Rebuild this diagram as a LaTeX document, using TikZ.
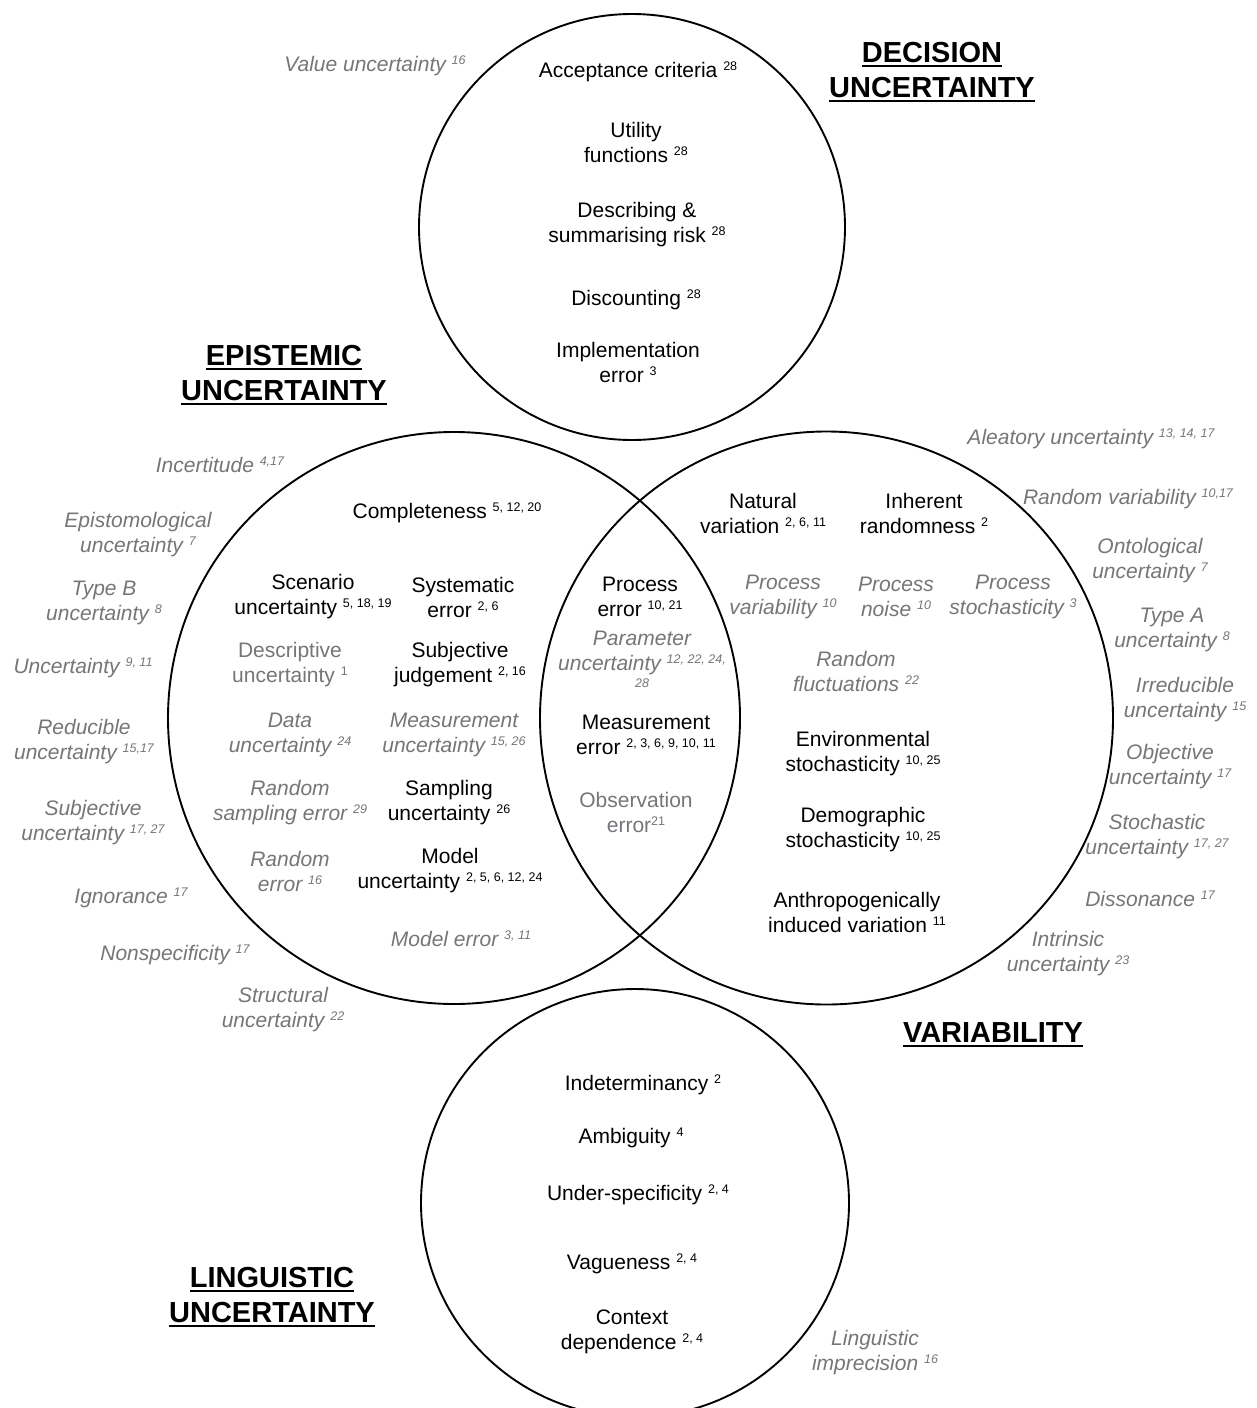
\documentclass[tikz,border=0pt]{standalone}
\usepackage{fontspec}
\setmainfont{Liberation Sans}
\definecolor{tg}{RGB}{118,118,122}
\newcommand\supr[1]{\raisebox{7pt}{\fontsize{12.5}{12.5}\selectfont #1}}
\newcommand\hul[1]{\leavevmode\vtop{\hbox{#1}\kern2.5pt\hrule height 2.2pt}}
\begin{document}
\begin{tikzpicture}[x=1pt,y=-1pt,
  every node/.style={inner sep=0pt, align=center, yshift=-2pt, font=\fontsize{21}{25}\selectfont},
  gi/.style={text=tg, font=\fontsize{21}{25}\selectfont\itshape},
  gu/.style={text=tg},
  hd/.style={font=\fontsize{29}{35}\selectfont\bfseries},
  ring/.style={draw, circle, line width=1.9pt, minimum size=#1, yshift=0pt}]
\useasboundingbox (0,0) rectangle (1257,1408);
\fill[white] (0,0) rectangle (1257,1408);
% circles
\node[ring=426pt] (dec) at (632,225) {};
\node[ring=572pt] (epi) at (454,716) {};
\node[ring=573pt] (var) at (826.5,716) {};
\node[ring=428pt] (lin) at (635,1201) {};
% headings
\node[hd] (hdec) at (932,70) {\hul{DECISION}\\\hul{UNCERTAINTY}};
\node[hd] (hepi) at (284,373) {\hul{EPISTEMIC}\\\hul{UNCERTAINTY}};
\node[hd] (hvar) at (993,1033) {\hul{VARIABILITY}};
\node[hd] (hlin) at (272,1295) {\hul{LINGUISTIC}\\\hul{UNCERTAINTY}};
% decision
\node (d1) at (638,70) {Acceptance criteria \supr{28}};
\node (d2) at (636,140) {Utility\\functions \supr{28}};
\node (d3) at (637,223) {Describing \&\\summarising risk \supr{28}};
\node (d4) at (636,298) {Discounting \supr{28}};
\node (d5) at (628,360) {Implementation\\error \supr{3}};
\node[gi] (d6) at (375,64) {Value uncertainty \supr{16}};
% epistemic outside
\node[gi] (e1) at (220,463) {Incertitude \supr{4,17}};
\node[gi] (e2) at (138,533) {Epistomological\\uncertainty \supr{7}};
\node[gi] (e3) at (104,601) {Type B\\uncertainty \supr{8}};
\node[gi] (e4) at (83,666) {Uncertainty \supr{9, 11}};
\node[gi] (e5) at (84,740) {Reducible\\uncertainty \supr{15,17}};
\node[gi] (e6) at (93,821) {Subjective\\uncertainty \supr{17, 27}};
\node[gi] (e7) at (131,896) {Ignorance \supr{17}};
\node[gi] (e8) at (175,953) {Nonspecificity \supr{17}};
\node[gi] (e9) at (283,1008) {Structural\\uncertainty \supr{22}};
% epistemic inside
\node (i1) at (447,511) {Completeness \supr{5, 12, 20}};
\node (i2) at (313,595) {Scenario\\uncertainty \supr{5, 18, 19}};
\node (i3) at (463,595) {Systematic\\error \supr{2, 6}};
\node[gu] (i4) at (290,663) {Descriptive\\uncertainty \supr{1}};
\node (i5) at (460,663) {Subjective\\judgement \supr{2, 16}};
\node[gi] (i6) at (290,733) {Data\\uncertainty \supr{24}};
\node[gi] (i7) at (454,733) {Measurement\\uncertainty \supr{15, 26}};
\node[gi] (i8) at (290,801) {Random\\sampling error \supr{29}};
\node (i9) at (449,801) {Sampling\\uncertainty \supr{26}};
\node[gi] (i10) at (290,869) {Random\\error \supr{16}};
\node (i11) at (450,869) {Model\\uncertainty \supr{2, 5, 6, 12, 24}};
\node[gi] (i12) at (461,937) {Model error \supr{3, 11}};
% lens
\node (l1) at (640,595) {Process\\error \supr{10, 21}};
\node[gi] (l2) at (642,657) {Parameter\\uncertainty \supr{12, 22, 24,}\\[-8pt]{\fontsize{12.5}{12.5}\selectfont 28}};
\node (l3) at (646,733) {Measurement\\error \supr{2, 3, 6, 9, 10, 11}};
\node[gu] (l4) at (636,810) {Observation\\error\supr{21}};
% variability inside
\node (v1) at (763,511) {Natural\\variation \supr{2, 6, 11}};
\node (v2) at (924,511) {Inherent\\randomness \supr{2}};
\node[gi] (v3) at (783,595) {Process\\variability \supr{10}};
\node[gi] (v4) at (896,595) {Process\\noise \supr{10}};
\node[gi] (v5) at (1013,595) {Process\\stochasticity \supr{3}};
\node[gi] (v6) at (856,669) {Random\\fluctuations \supr{22}};
\node (v7) at (863,752) {Environmental\\stochasticity \supr{10, 25}};
\node (v8) at (863,828) {Demographic\\stochasticity \supr{10, 25}};
\node (v9) at (857,910) {Anthropogenically\\induced variation \supr{11}};
% variability outside
\node[gi] (o1) at (1091,437) {Aleatory uncertainty \supr{13, 14, 17}};
\node[gi] (o2) at (1128,497) {Random variability \supr{10,17}};
\node[gi] (o3) at (1150,559) {Ontological\\uncertainty \supr{7}};
\node[gi] (o4) at (1172,628) {Type A\\uncertainty \supr{8}};
\node[gi] (o5) at (1185,698) {Irreducible\\uncertainty \supr{15}};
\node[gi] (o6) at (1170,765) {Objective\\uncertainty \supr{17}};
\node[gi] (o7) at (1157,835) {Stochastic\\uncertainty \supr{17, 27}};
\node[gi] (o8) at (1150,897) {Dissonance \supr{17}};
\node[gi] (o9) at (1068,952) {Intrinsic\\uncertainty \supr{23}};
% linguistic
\node (g1) at (643,1083) {Indeterminancy \supr{2}};
\node (g2) at (631,1136) {Ambiguity \supr{4}};
\node (g3) at (638,1193) {Under-specificity \supr{2, 4}};
\node (g4) at (632,1262) {Vagueness \supr{2, 4}};
\node (g5) at (632,1330) {Context\\dependence \supr{2, 4}};
\node[gi] (g6) at (875,1351) {Linguistic\\imprecision \supr{16}};
\end{tikzpicture}
\end{document}
